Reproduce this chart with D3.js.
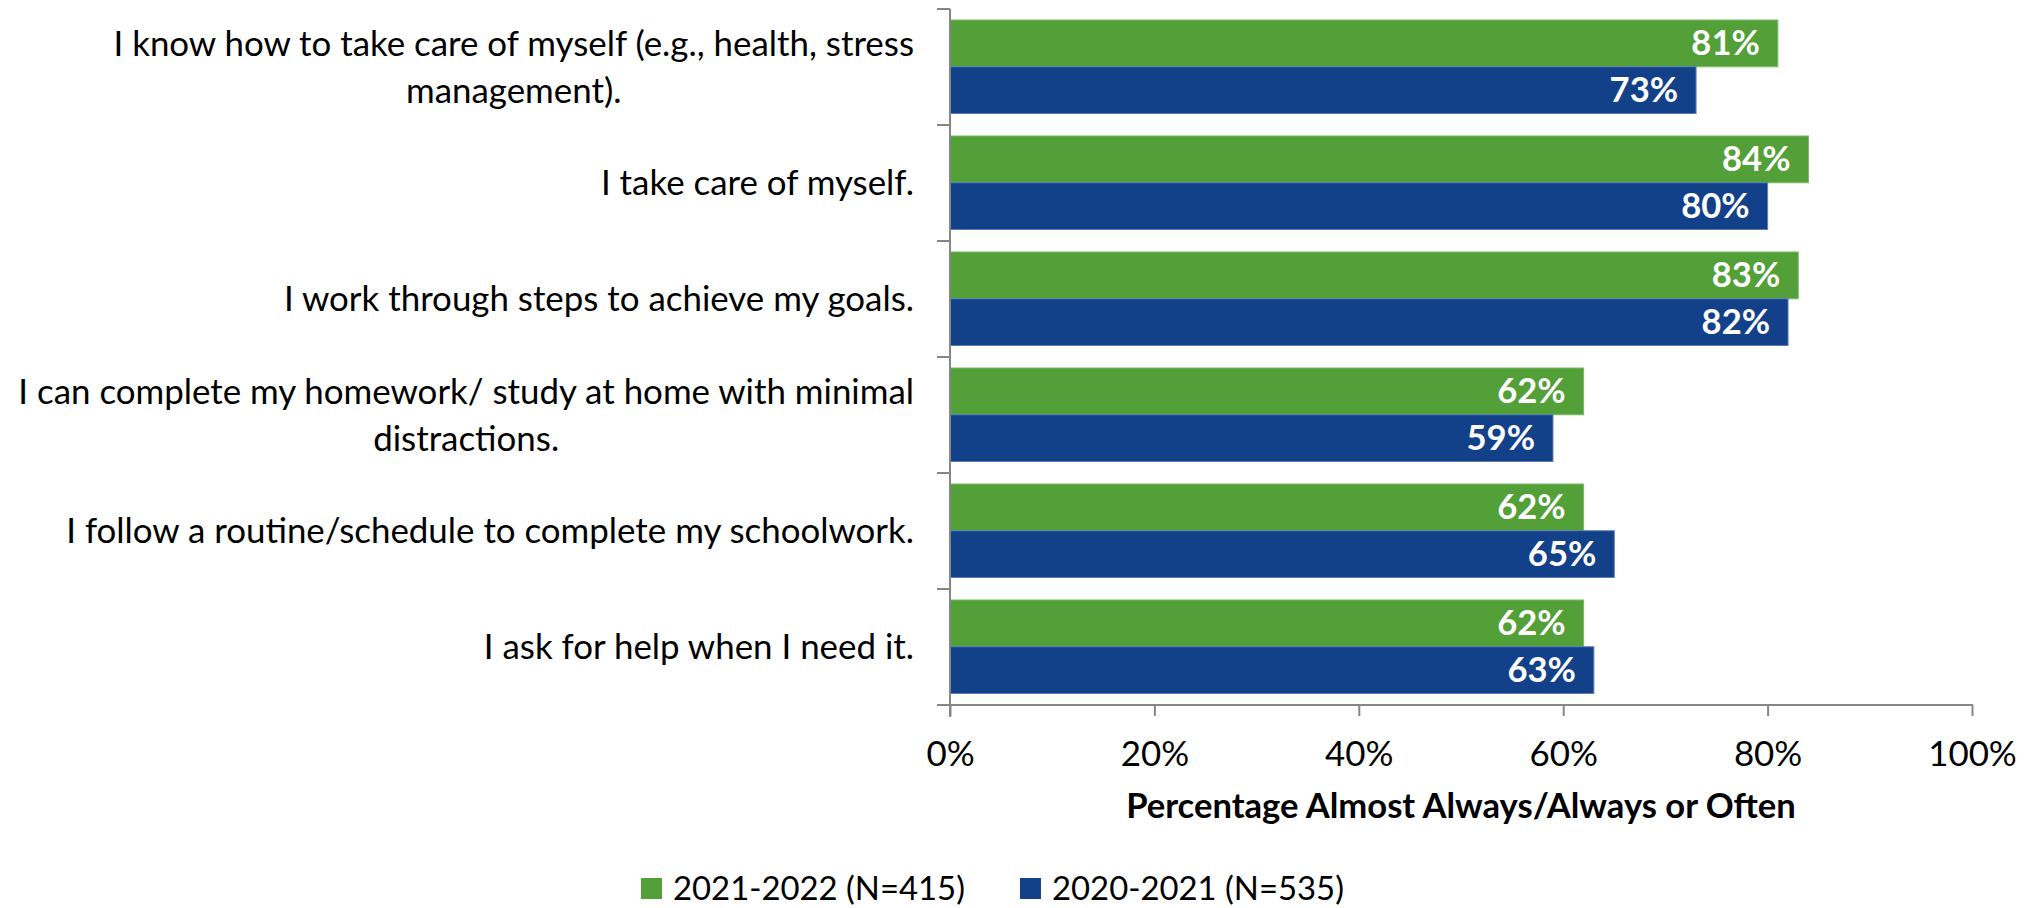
<!DOCTYPE html>
<html>
<head>
<meta charset="utf-8">
<script src="https://cdn.jsdelivr.net/npm/d3@7"></script>
<style>
  html, body { margin: 0; padding: 0; background: #ffffff; }
  svg { display: block; }
</style>
</head>
<body>
<svg id="chart" width="2030" height="908"></svg>
<script>
// ---------- DATA ----------
const categories = [
  ["I know how to take care of myself (e.g., health, stress", "management)."],
  ["I take care of myself."],
  ["I work through steps to achieve my goals."],
  ["I can complete my homework/ study at home with minimal", "distractions."],
  ["I follow a routine/schedule to complete my schoolwork."],
  ["I ask for help when I need it."]
];
const seriesNames = ["2021-2022 (N=415)", "2020-2021 (N=535)"];
const values2122 = [81, 84, 83, 62, 62, 62];
const values2021 = [73, 80, 82, 59, 65, 63];
const xTicks = [0, 20, 40, 60, 80, 100];
const xTitle = "Percentage Almost Always/Always or Often";

// ---------- STYLE ----------
const colors = ["#53a038", "#134189"];
const strokes = ["#79b864", "#5a7db5"];
const axisColor = "#868686";
const FONT = "Lato, 'Open Sans', 'Liberation Sans', sans-serif";

const svg = d3.select("#chart");

// measure helper for fitting Lato to Calibri-like widths
function measure(text, size, weight) {
  const t = svg.append("text").attr("font-family", FONT).attr("font-size", size)
    .attr("font-weight", weight).text(text);
  const w = t.node().getComputedTextLength();
  t.remove();
  return w;
}
const regSize = 36 * 896 / measure(categories[3][0], 36, "normal");
const boldSize = 36 * 670 / measure(xTitle, 36, "bold");
const legendSize = 36 * 292 / measure(seriesNames[0], 36, "normal");

// ---------- SCALES ----------
const plot = { left: 950, right: 1972, top: 9, bottom: 705 };
const x = d3.scaleLinear().domain([0, 100]).range([plot.left, plot.right]);
const y = d3.scaleBand().domain(d3.range(categories.length)).range([plot.top, plot.bottom]);
const ySub = d3.scaleBand().domain([0, 1]).range([11, y.bandwidth() - 11.5]);

const rows = categories.map((c, i) => ({ i, vals: [values2122[i], values2021[i]] }));

// ---------- BARS ----------
const g = svg.append("g");
const groups = g.selectAll("g.cat").data(rows).join("g")
  .attr("class", "cat")
  .attr("transform", d => `translate(0,${y(d.i)})`);

groups.selectAll("rect").data(d => d.vals.map((v, s) => ({ v, s }))).join("rect")
  .attr("x", x(0))
  .attr("y", d => ySub(d.s))
  .attr("width", d => x(d.v) - x(0))
  .attr("height", ySub.bandwidth())
  .attr("fill", d => colors[d.s])
  .attr("stroke", d => strokes[d.s])
  .attr("stroke-width", 1);

groups.selectAll("text.val").data(d => d.vals.map((v, s) => ({ v, s }))).join("text")
  .attr("class", "val")
  .attr("x", d => x(d.v) - 18)
  .attr("y", d => ySub(d.s) + ySub.bandwidth() / 2)
  .attr("dy", "0.35em")
  .attr("text-anchor", "end")
  .attr("font-family", FONT)
  .attr("font-weight", "bold")
  .attr("font-size", boldSize)
  .attr("fill", "#ffffff")
  .text(d => d.v + "%");

// ---------- AXES ----------
const xAxis = d3.axisBottom(x).tickValues(xTicks).tickSize(11).tickSizeOuter(0).tickFormat(d => d + "%");
const xg = svg.append("g").attr("transform", `translate(0,${plot.bottom})`).call(xAxis);
xg.select(".domain").remove();
xg.selectAll(".tick line").attr("stroke", axisColor).attr("stroke-width", 2);
xg.selectAll(".tick text").attr("font-family", FONT).attr("font-size", regSize)
  .attr("fill", "#000").attr("y", 61).attr("dy", 0);
svg.append("line")
  .attr("x1", plot.left - 13).attr("x2", x(100) + 1)
  .attr("y1", plot.bottom).attr("y2", plot.bottom)
  .attr("stroke", axisColor).attr("stroke-width", 2);

// y axis line and boundary ticks
svg.append("line")
  .attr("x1", plot.left).attr("x2", plot.left)
  .attr("y1", plot.top).attr("y2", plot.bottom + 12)
  .attr("stroke", axisColor).attr("stroke-width", 2);
const boundaries = d3.range(categories.length + 1).map(i => plot.top + i * y.step());
svg.selectAll("line.ytick").data(boundaries).join("line")
  .attr("class", "ytick")
  .attr("x1", plot.left - 13).attr("x2", plot.left)
  .attr("y1", d => d).attr("y2", d => d)
  .attr("stroke", axisColor).attr("stroke-width", 2);

// category labels (right aligned block, lines centered within block)
const labelRight = 914;
const lineH = 47;
categories.forEach((lines, i) => {
  const widths = lines.map(l => measure(l, regSize, "normal"));
  const bw = d3.max(widths);
  const cx = labelRight - bw / 2;
  const cy = y(i) + y.bandwidth() / 2;
  lines.forEach((l, k) => {
    svg.append("text")
      .attr("x", cx)
      .attr("y", cy + (k - (lines.length - 1) / 2) * lineH)
      .attr("dy", "0.35em")
      .attr("text-anchor", "middle")
      .attr("font-family", FONT)
      .attr("font-size", regSize)
      .attr("fill", "#000")
      .text(l);
  });
});

// x axis title
svg.append("text")
  .attr("x", (plot.left + plot.right) / 2)
  .attr("y", 818)
  .attr("text-anchor", "middle")
  .attr("font-family", FONT)
  .attr("font-weight", "bold")
  .attr("font-size", boldSize)
  .attr("fill", "#000")
  .text(xTitle);

// ---------- LEGEND ----------
const legend = svg.append("g");
let lx = 641;
seriesNames.forEach((name, s) => {
  legend.append("rect").attr("x", lx).attr("y", 878).attr("width", 21).attr("height", 21)
    .attr("fill", colors[s]);
  const t = legend.append("text").attr("x", lx + 32).attr("y", 900)
    .attr("font-family", FONT).attr("font-size", legendSize).attr("fill", "#000").text(name);
  lx += 32 + t.node().getComputedTextLength() + 55;
});
</script>
</body>
</html>
